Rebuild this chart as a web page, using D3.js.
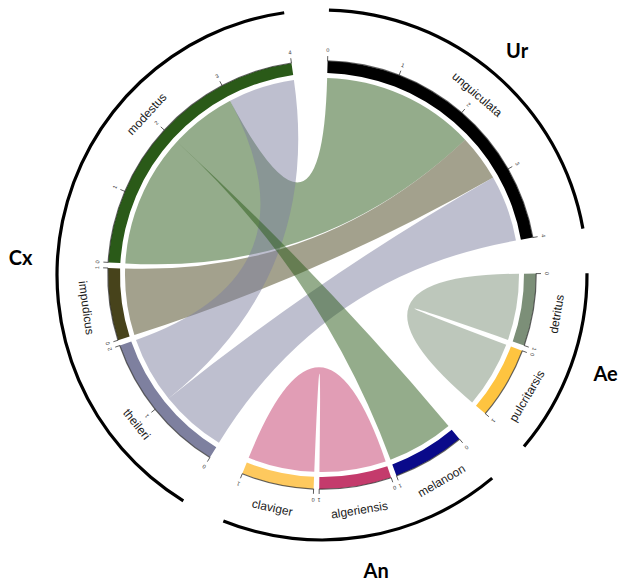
<!DOCTYPE html>
<html><head><meta charset="utf-8">
<script src="https://cdn.jsdelivr.net/npm/d3@7"></script>
<style>body{margin:0;background:#fff} svg{display:block}</style>
</head><body>
<svg id="chart" width="619" height="583"></svg>
<script>
// Sectors (clockwise from the top) and the group each belongs to
const sectors = ["unguiculata","detritus","pulcritarsis","melanoon","algeriensis","claviger","theileri","impudicus","modestus"];
const sectorGroup = ["Ur","Ae","Ae","An","An","An","Cx","Cx","Cx"];
const sectorSize = [4,1,1,1,1,1,2,1,4];
const groups = ["Ur","Ae","An","Cx"];

// Links: sector and value span at each end
const linkSource     = ["modestus","impudicus","theileri","theileri","detritus","algeriensis","melanoon"];
const linkSourceFrom = [0,0,0,1,0,0,0];
const linkSourceTo   = [3,1,1,2,1,1,1];
const linkTarget     = ["unguiculata","unguiculata","unguiculata","modestus","pulcritarsis","claviger","modestus"];
const linkTargetFrom = [0,2.3,3,3,0,0,2];
const linkTargetTo   = [2.3,3,4,4,1,1,2];
const linkColourOf   = ["modestus","impudicus","theileri","theileri","detritus","algeriensis","modestus"];

// Styling
const sectorColour = {
  unguiculata:"#000000", detritus:"#7c8f78", pulcritarsis:"#fec440",
  melanoon:"#0a0a8a", algeriensis:"#c43b6c", claviger:"#fec95e",
  theileri:"#7e809f", impudicus:"#47431b", modestus:"#2a5a18"
};
const cx = 322, cy = 275;
const rChord = 197, rIn = 202, rOut = 214;
const rTickLabel = 225, rLabel = 238, rGroup = 265;
const bigGap = 9.7, smallGap = 1.5, startDeg = 1.5;
const groupLabelPos = {Ur:{a:40.9,r:298}, Ae:{a:109,r:300}, An:{a:169.6,r:300}, Cx:{a:273.4,r:302}};

const rad = d => d * Math.PI / 180;
const total = d3.sum(sectorSize);
const nBig = groups.length, nSmall = sectors.length - groups.length;
const unit = (360 - nBig * bigGap - nSmall * smallGap) / total;

// Angular layout of each sector
const layout = {};
let pos = startDeg;
sectors.forEach((s, i) => {
  if (i > 0) pos += sectorGroup[i] !== sectorGroup[i - 1] ? bigGap : smallGap;
  layout[s] = {start: pos, end: pos + sectorSize[i] * unit, size: sectorSize[i], group: sectorGroup[i]};
  pos = layout[s].end;
});
const angleAt = (s, v) => layout[s].start + v * unit;

const svg = d3.select("#chart");
const g = svg.append("g").attr("transform", `translate(${cx},${cy})`);

// Chords
const ribbon = d3.ribbon().radius(rChord);
const chordG = g.append("g");
linkSource.forEach((s, i) => {
  const d = {
    source: {startAngle: rad(angleAt(s, linkSourceFrom[i])), endAngle: rad(angleAt(s, linkSourceTo[i]))},
    target: {startAngle: rad(angleAt(linkTarget[i], linkTargetFrom[i])), endAngle: rad(angleAt(linkTarget[i], linkTargetTo[i]))}
  };
  chordG.append("path").attr("d", ribbon(d))
    .attr("fill", sectorColour[linkColourOf[i]]).attr("fill-opacity", 0.5);
});

// Sector track
const arc = d3.arc();
sectors.forEach(s => {
  const L = layout[s];
  g.append("path").attr("d", arc({innerRadius: rIn, outerRadius: rOut, startAngle: rad(L.start), endAngle: rad(L.end)}))
    .attr("fill", sectorColour[s]);
  g.append("path").attr("d", arc({innerRadius: rOut - 0.4, outerRadius: rOut + 0.8, startAngle: rad(L.start), endAngle: rad(L.end)}))
    .attr("fill", "#222").attr("opacity", 0.7);
});

// Axis ticks
sectors.forEach(s => {
  const L = layout[s];
  d3.range(0, L.size + 1).forEach(v => {
    const a = angleAt(s, v), t = rad(a);
    g.append("line")
      .attr("x1", rOut * Math.sin(t)).attr("y1", -rOut * Math.cos(t))
      .attr("x2", (rOut + 5) * Math.sin(t)).attr("y2", -(rOut + 5) * Math.cos(t))
      .attr("stroke", "#333").attr("stroke-width", 0.8);
    g.append("text")
      .attr("transform", `translate(${rTickLabel * Math.sin(t)},${-rTickLabel * Math.cos(t)}) rotate(${a})`)
      .attr("text-anchor", "middle").attr("dominant-baseline", "central")
      .attr("font-family", "Liberation Sans, Arial, sans-serif").attr("font-size", 5.5)
      .attr("fill", "#333").text(v);
  });
});

// Sector names
sectors.forEach(s => {
  const L = layout[s];
  const a = (L.start + L.end) / 2, t = rad(a);
  const flip = a > 90 && a < 270;
  g.append("text")
    .attr("transform", `translate(${rLabel * Math.sin(t)},${-rLabel * Math.cos(t)}) rotate(${flip ? a - 180 : a})`)
    .attr("text-anchor", "middle").attr("dominant-baseline", "central")
    .attr("font-family", "Liberation Sans, Arial, sans-serif").attr("font-size", 12)
    .attr("fill", "#1a1a1a").text(s);
});

// Group arcs and names
groups.forEach(gr => {
  const members = sectors.filter(s => layout[s].group === gr);
  const a0 = layout[members[0]].start, a1 = layout[members[members.length - 1]].end;
  g.append("path").attr("d", arc({innerRadius: rGroup - 1.6, outerRadius: rGroup + 1.6, startAngle: rad(a0), endAngle: rad(a1)}))
    .attr("fill", "#000");
  const p = groupLabelPos[gr], t = rad(p.a);
  g.append("text")
    .attr("x", p.r * Math.sin(t)).attr("y", -p.r * Math.cos(t))
    .attr("text-anchor", "middle").attr("dominant-baseline", "central")
    .attr("font-family", "Lato, Liberation Sans, sans-serif").attr("font-weight", 700).attr("font-size", 20)
    .attr("fill", "#000").text(gr);
});
</script>
</body></html>
